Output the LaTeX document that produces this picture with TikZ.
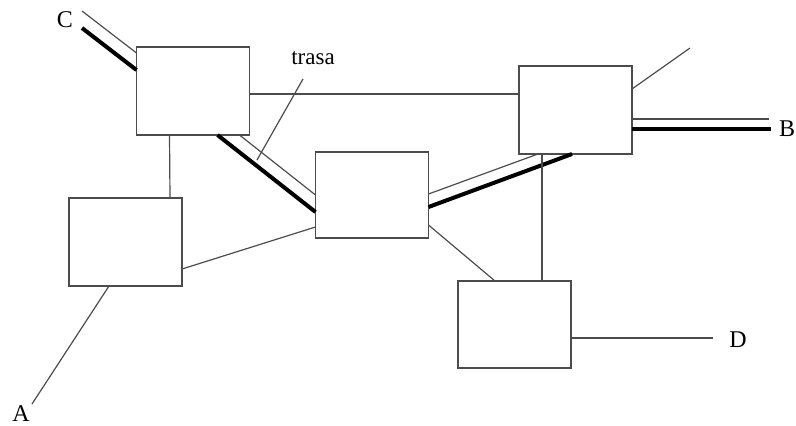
\documentclass[tikz,border=0pt]{standalone}
\usepackage{fontspec}
\setmainfont{Liberation Serif}
\usepackage{tikz}
\usetikzlibrary{calc, positioning}

\tikzset{
  box/.style={draw=black!70, line width=1.2pt, minimum width=113pt, minimum height=88pt, inner sep=0pt, outer sep=0pt},
  thin/.style={draw=black!70, line width=1.2pt},
  thick/.style={draw=black, line width=4pt},
  lbl/.style={inner sep=0pt, font=\fontsize{24}{26}\selectfont}
}

\begin{document}
\begin{tikzpicture}
                      [x=1pt, y=-1pt, text centered]
                      \useasboundingbox (0,0) rectangle (796,426);
                      % nodes %
                      \node[box] (r1) at (193,91) {};
                      \node[box] (r2) at (125.5,242) {};
                      \node[box, minimum height=86pt] (r3) at (372,195) {};
                      \node[box] (r4) at (575.5,110) {};
                      \node[box, minimum height=87pt] (r5) at (514.5,324.5) {};

                      \node[lbl] (c) at (65,20) {C};
                      \node[lbl] (b) at (787,129) {B};
                      \node[lbl] (a) at (21,414) {A};
                      \node[lbl] (d) at (738,340) {D};
                      \node[lbl, font=\fontsize{23}{25}\selectfont] (trasa) at (313,58) {trasa};

                      \coordinate (c1) at (82,11);
                      \coordinate (c2) at (82,28);
                      \coordinate (b1) at (769,119);
                      \coordinate (b2) at (771,129);
                      \coordinate (a1) at (32,404);
                      \coordinate (d1) at (713,338);
                      \coordinate (out) at (690,48);
                      \coordinate (t1) at (303,79);
                      \coordinate (t2) at (257,160);

                      % edges %
                      \draw[thin] (c1) -- ($(r1.north west)+(0,6)$);
                      \draw[thick] (c2) -- ($(r1.north west)+(0,23)$);
                      \draw[thin] ($(r1.north east)+(0,47)$) -- ($(r4.north west)+(0,28)$);
                      \draw[thin] ($(r1.south west)+(33,0)$) -- ($(r2.north west)+(101,0)$);
                      \draw[thin] ($(r1.south west)+(103,0)$) -- ($(r3.north west)+(0,43)$);
                      \draw[thick] ($(r1.south west)+(81,0)$) -- ($(r3.north west)+(0,60)$);
                      \draw[thin] ($(r2.north east)+(0,71)$) -- ($(r3.north west)+(0,75)$);
                      \draw[thin] ($(r2.south west)+(40,0)$) -- (a1);
                      \draw[thin] ($(r3.north east)+(0,42)$) -- ($(r4.south west)+(19,0)$);
                      \draw[thick] ($(r3.north east)+(0,55)$) -- ($(r4.south west)+(53,0)$);
                      \draw[thin] ($(r3.north east)+(0,73)$) -- ($(r5.north west)+(37,0)$);
                      \draw[thin] ($(r4.north east)+(0,23)$) -- (out);
                      \draw[thin] ($(r4.north east)+(0,53)$) -- (b1);
                      \draw[thick] ($(r4.north east)+(0,63)$) -- (b2);
                      \draw[thin] ($(r4.south west)+(23,0)$) -- ($(r5.north west)+(84,0)$);
                      \draw[thin] ($(r5.north east)+(0,57)$) -- (d1);
                      \draw[thin] (t1) -- (t2);
                    \end{tikzpicture}
\end{document}
